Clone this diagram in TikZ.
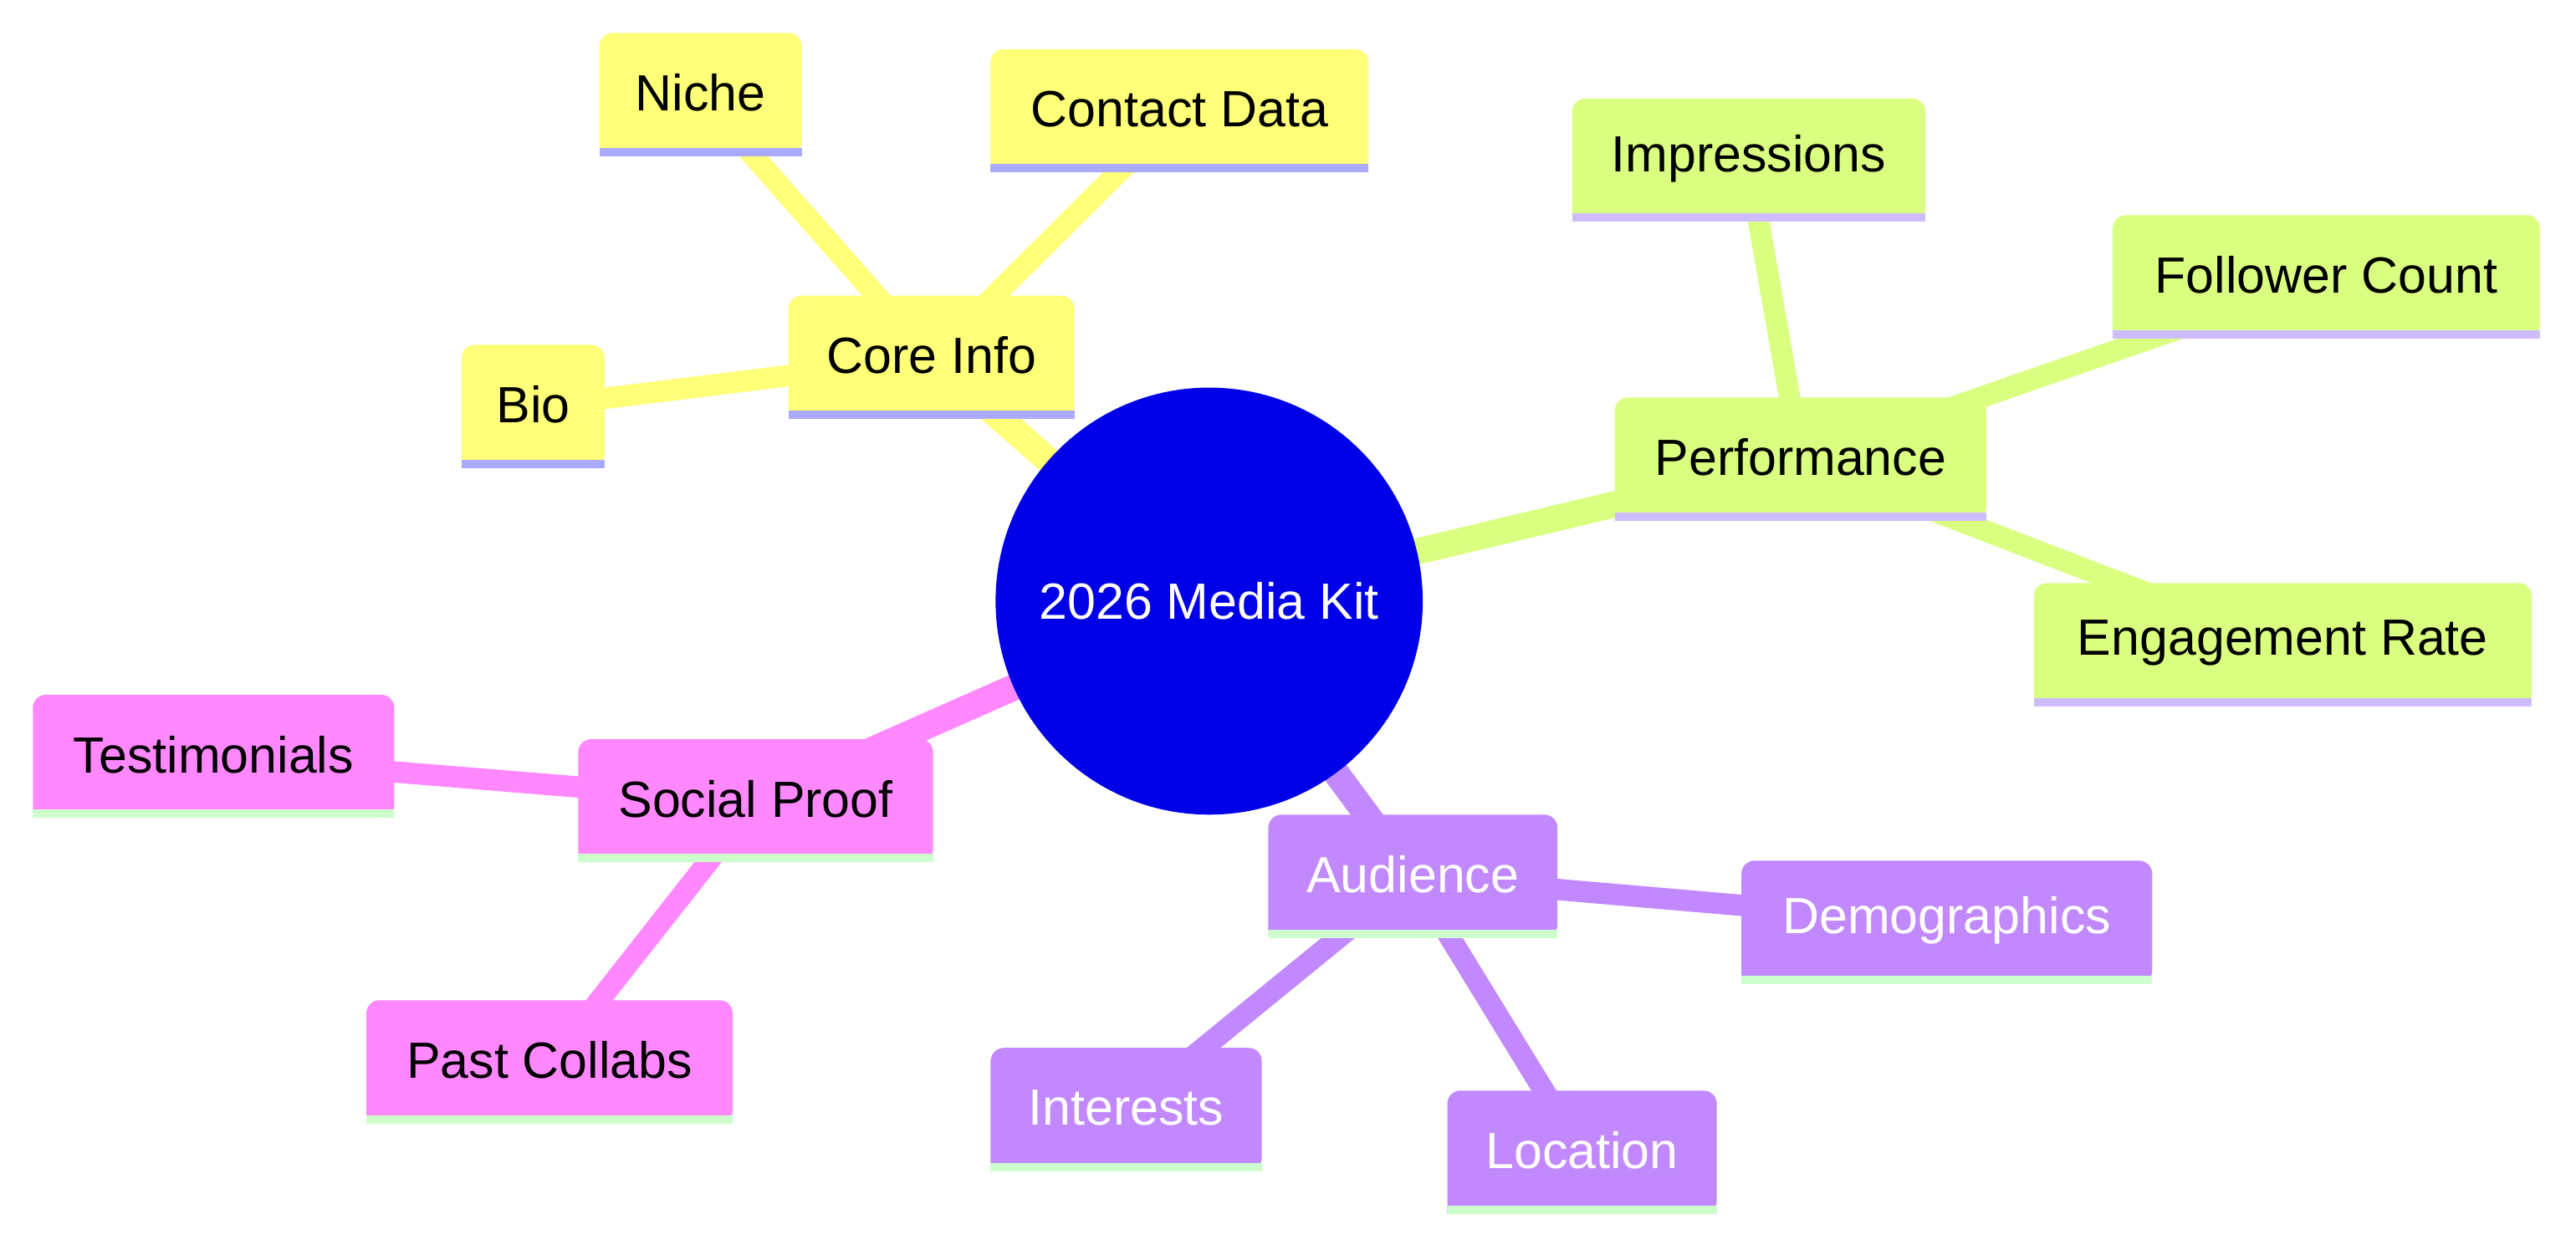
\documentclass[tikz,border=0pt]{standalone}
\usepackage{fontspec}
\setmainfont{Liberation Sans}
\definecolor{cy}{HTML}{FFFF78}
\definecolor{cg}{HTML}{DAFF80}
\definecolor{cp}{HTML}{C289FF}
\definecolor{ck}{HTML}{FF88FF}
\definecolor{by}{HTML}{AAAAFF}
\definecolor{bg}{HTML}{CDBDFF}
\definecolor{bp}{HTML}{CCFFCC}
\definecolor{cc}{HTML}{0000E8}
\tikzset{
  main/.style={line width=8pt},
  leafl/.style={line width=6.5pt},
  lbl/.style={font=\fontsize{15.5}{18}\selectfont, inner sep=0pt}
}
\newcommand{\kbox}[9]{%
  \fill[#7, rounded corners=4pt] (#2,#5) -- (#2,#3) -- (#4,#3) -- (#4,#5) [sharp corners] -- cycle;
  \fill[#8] (#2,#5-5) rectangle (#4,#5);
  \node[lbl, text=#9] (#1) at ({(#2+#4)/2},{(#3+#5)/2-1}) {#6};
}
\begin{document}
\begin{tikzpicture}[x=0.5pt,y=-0.5pt]
\useasboundingbox[fill=white] (0,0) rectangle (1568,758);
\coordinate (c) at (736,366);
\coordinate (core) at (567,218);
\coordinate (niche) at (426,58);
\coordinate (contact) at (718,68);
\coordinate (bio) at (324,248);
\coordinate (perf) at (1096,280);
\coordinate (impr) at (1064,98);
\coordinate (foll) at (1416,169);
\coordinate (eng) at (1390,393);
\coordinate (aud) at (860,534);
\coordinate (demo) at (1185,562);
\coordinate (inter) at (686,676);
\coordinate (loc) at (963,702);
\coordinate (soc) at (460,488);
\coordinate (test) at (130,461);
\coordinate (past) at (335,647);
\draw[main,cy] (c) -- (core);
\draw[leafl,cy] (core) -- (niche) (core) -- (contact) (core) -- (bio);
\draw[main,cg] (c) -- (perf);
\draw[leafl,cg] (perf) -- (impr) (perf) -- (foll) (perf) -- (eng);
\draw[main,cp] (c) -- (aud);
\draw[leafl,cp] (aud) -- (demo) (aud) -- (inter) (aud) -- (loc);
\draw[main,ck] (c) -- (soc);
\draw[leafl,ck] (soc) -- (test) (soc) -- (past);
\fill[cc] (c) circle (130);
\node[lbl,text=white] (center) at (c) {2026 Media Kit};
\kbox{ncore}{480}{180}{654}{255}{Core Info}{cy}{by}{black}
\kbox{nniche}{365}{20}{488}{95}{Niche}{cy}{by}{black}
\kbox{ncontact}{603}{30}{833}{105}{Contact Data}{cy}{by}{black}
\kbox{nbio}{281}{210}{368}{285}{Bio}{cy}{by}{black}
\kbox{nperf}{983}{242}{1209}{317}{Performance}{cg}{bg}{black}
\kbox{nimpr}{957}{60}{1172}{135}{Impressions}{cg}{bg}{black}
\kbox{nfoll}{1286}{131}{1546}{206}{Follower Count}{cg}{bg}{black}
\kbox{neng}{1238}{355}{1541}{430}{Engagement Rate}{cg}{bg}{black}
\kbox{naud}{772}{496}{948}{571}{Audience}{cp}{bp}{white}
\kbox{ndemo}{1060}{524}{1310}{599}{Demographics}{cp}{bp}{white}
\kbox{ninter}{603}{638}{768}{713}{Interests}{cp}{bp}{white}
\kbox{nloc}{881}{664}{1045}{739}{Location}{cp}{bp}{white}
\kbox{nsoc}{352}{450}{568}{525}{Social Proof}{ck}{bp}{black}
\kbox{ntest}{20}{423}{240}{498}{Testimonials}{ck}{bp}{black}
\kbox{npast}{223}{609}{446}{684}{Past Collabs}{ck}{bp}{black}
\end{tikzpicture}
\end{document}
